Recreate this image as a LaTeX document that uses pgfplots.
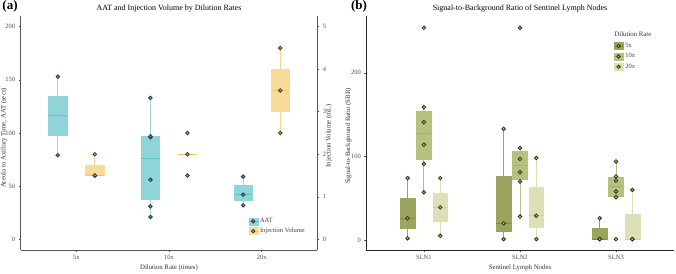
\documentclass[border=0pt]{standalone}
\usepackage{fontspec}
\setmainfont{Liberation Serif}
\usepackage{pgfplots}
\pgfplotsset{compat=1.18}
\usepgfplotslibrary{statistics}
\definecolor{aatfill}{HTML}{8ED4D8}
\definecolor{aatmed}{HTML}{62C3CA}
\definecolor{aatwhisk}{HTML}{9BD9DD}
\definecolor{aatpt}{HTML}{3AA6AE}
\definecolor{injfill}{HTML}{F9DB98}
\definecolor{injmed}{HTML}{F3C35E}
\definecolor{injwhisk}{HTML}{F7D58D}
\definecolor{injpt}{HTML}{D9A83A}
\definecolor{ptdraw}{HTML}{2E3A3A}
\definecolor{cfive}{HTML}{9CA35F}
\definecolor{cfivemed}{HTML}{7F8A3C}
\definecolor{cten}{HTML}{B7C17E}
\definecolor{ctenmed}{HTML}{A5B168}
\definecolor{ctwenty}{HTML}{DDE0B6}
\definecolor{ctwentymed}{HTML}{CDD29A}
\definecolor{bpt}{HTML}{C4C866}
\definecolor{bptdraw}{HTML}{2B2B1B}
\definecolor{axisgray}{HTML}{555555}
\pgfplotsset{
  base/.style={scale only axis, height=234pt, clip=false,
    axis x line*=bottom, axis y line*=left,
    axis line style={-, line width=0.8pt, axisgray},
    tick align=outside, major tick length=2pt,
    tick style={axisgray, line width=0.5pt},
    tick label style={font=\fontsize{6.5}{7}\selectfont, text=black!70},
    /pgf/number format/assume math mode=true,
    xmin=0.4, xmax=3.6, xtick={1,2,3}},
  bx/.style n args={4}{forget plot, color=#3, line width=0.9pt,
    boxplot/draw direction=y,
    boxplot/box extend=#4, boxplot/whisker extend=0,
    boxplot/every box/.style={fill=#1, draw=#1, line width=0.5pt},
    boxplot/every median/.style={draw=#2, line width=1pt}},
  pts/.style 2 args={forget plot, only marks, mark=*, mark size=1.8pt, line width=0.8pt,
    mark options={fill=#1, draw=#2}},
  keyimg/.style n args={4}{legend image code/.code={
    \fill[#1] (0pt,-3.5pt) rectangle (9pt,3.5pt);
    \draw[#2, line width=0.6pt] (0pt,0pt) -- (9pt,0pt);
    \filldraw[fill=#3, draw=#4, line width=0.8pt] (4.5pt,0pt) circle (1.7pt);}}
}
\begin{document}
\begin{tikzpicture}
\path[use as bounding box] (0pt,0pt) rectangle (676pt,273pt);
% ---------- panel (a) ----------
\begin{axis}[base, at={(20.7pt,23pt)}, anchor=south west, width=296.6pt,
  ymin=-10, ymax=210, ytick={0,50,100,150,200},
  xticklabels={5x,10x,20x}]
\addplot[bx={aatfill}{aatmed}{aatwhisk}{0.2}, boxplot prepared={draw position=0.8,
  lower whisker=79, lower quartile=97.5, median=116, upper quartile=134.5, upper whisker=153}] coordinates {};
\addplot[bx={aatfill}{aatmed}{aatwhisk}{0.2}, boxplot prepared={draw position=1.8,
  lower whisker=21, lower quartile=37.25, median=76, upper quartile=96.75, upper whisker=133}] coordinates {};
\addplot[bx={aatfill}{aatmed}{aatwhisk}{0.2}, boxplot prepared={draw position=2.8,
  lower whisker=32, lower quartile=37, median=42, upper quartile=50.5, upper whisker=59}] coordinates {};
\addplot[pts={aatpt}{ptdraw}] coordinates {
  (0.8,79) (0.8,153)
  (1.8,21) (1.8,31) (1.8,56) (1.8,96) (1.8,97) (1.8,133)
  (2.8,32) (2.8,42) (2.8,59)};
\end{axis}
\begin{axis}[base, at={(20.7pt,23pt)}, anchor=south west, width=296.6pt,
  axis y line*=right, axis x line=none,
  ymin=-0.25, ymax=5.25, ytick={0,1,2,3,4,5},
  legend style={at={(0.757,0.148)}, anchor=north west, draw=none, fill=none,
    font=\fontsize{6.5}{7}\selectfont, row sep=2.5pt,
    nodes={inner xsep=2pt, inner ysep=0.6pt, text=black!75}},
  legend cell align=left]
\addplot[bx={injfill}{injmed}{injwhisk}{0.2}, boxplot prepared={draw position=1.2,
  lower whisker=1.5, lower quartile=1.5, median=1.5, upper quartile=1.75, upper whisker=2.0}] coordinates {};
\addplot[bx={injfill}{injmed}{injwhisk}{0.2}, boxplot prepared={draw position=2.2,
  lower whisker=2.0, lower quartile=2.0, median=2.0, upper quartile=2.0, upper whisker=2.0}] coordinates {};
\addplot[bx={injfill}{injmed}{injwhisk}{0.2}, boxplot prepared={draw position=3.2,
  lower whisker=2.5, lower quartile=3.0, median=3.5, upper quartile=4.0, upper whisker=4.5}] coordinates {};
\addplot[pts={injpt}{ptdraw}] coordinates {
  (1.2,1.5) (1.2,1.5) (1.2,2.0)
  (2.2,1.5) (2.2,2.0) (2.2,2.5)
  (3.2,2.5) (3.2,3.5) (3.2,4.5)};
\addlegendimage{keyimg={aatfill}{aatmed}{aatpt}{ptdraw}}
\addlegendentry{AAT}
\addlegendimage{keyimg={injfill}{injmed}{injpt}{ptdraw}}
\addlegendentry{Injection Volume}
\end{axis}
% ---------- panel (b) ----------
\begin{axis}[base, at={(366.3pt,23pt)}, anchor=south west, width=307.3pt,
  axis line style={-, line width=0.8pt, black!85},
  ymin=-12, ymax=268, ytick={0,100,200},
  xticklabels={SLN1,SLN2,SLN3},
  legend style={at={(0.795,0.897)}, anchor=north west, draw=none, fill=none,
    font=\fontsize{6.5}{7}\selectfont, row sep=3pt,
    nodes={inner xsep=2pt, inner ysep=0.6pt, text=black!75}},
  legend cell align=left]
% 5x
\addplot[bx={cfive}{cfivemed}{cfive}{0.155}, boxplot prepared={draw position=0.83,
  lower whisker=2, lower quartile=14, median=26, upper quartile=50, upper whisker=74}] coordinates {};
\addplot[bx={cfive}{cfivemed}{cfive}{0.155}, boxplot prepared={draw position=1.83,
  lower whisker=1, lower quartile=10.5, median=20, upper quartile=76.5, upper whisker=133}] coordinates {};
\addplot[bx={cfive}{cfivemed}{cfive}{0.155}, boxplot prepared={draw position=2.83,
  lower whisker=1, lower quartile=1, median=1, upper quartile=13.5, upper whisker=26}] coordinates {};
% 10x
\addplot[bx={cten}{ctenmed}{cten}{0.155}, boxplot prepared={draw position=1,
  lower whisker=57, lower quartile=96.75, median=127.5, upper quartile=154.5, upper whisker=159}] coordinates {};
\addplot[bx={cten}{ctenmed}{cten}{0.155}, boxplot prepared={draw position=2,
  lower whisker=28, lower quartile=72.75, median=89, upper quartile=106.75, upper whisker=110}] coordinates {};
\addplot[bx={cten}{ctenmed}{cten}{0.155}, boxplot prepared={draw position=3,
  lower whisker=51, lower quartile=52.75, median=64.5, upper quartile=74.75, upper whisker=94}] coordinates {};
% 20x
\addplot[bx={ctwenty}{ctwentymed}{ctwenty}{0.155}, boxplot prepared={draw position=1.17,
  lower whisker=5, lower quartile=22, median=39, upper quartile=56.5, upper whisker=74}] coordinates {};
\addplot[bx={ctwenty}{ctwentymed}{ctwenty}{0.155}, boxplot prepared={draw position=2.17,
  lower whisker=1, lower quartile=15, median=29, upper quartile=63.5, upper whisker=98}] coordinates {};
\addplot[bx={ctwenty}{ctwentymed}{ctwenty}{0.155}, boxplot prepared={draw position=3.17,
  lower whisker=1, lower quartile=1, median=1, upper quartile=30.5, upper whisker=60}] coordinates {};
\addplot[pts={bpt}{bptdraw}] coordinates {
  (0.83,2) (0.83,26) (0.83,74)
  (1.83,1) (1.83,20) (1.83,133)
  (2.83,1) (2.83,1) (2.83,26)
  (1,57) (1,91) (1,114) (1,141) (1,159) (1,254)
  (2,28) (2,70) (2,81) (2,97) (2,110) (2,254)
  (3,1) (3,51) (3,58) (3,71) (3,76) (3,94)
  (1.17,5) (1.17,39) (1.17,74)
  (2.17,1) (2.17,29) (2.17,98)
  (3.17,1) (3.17,1) (3.17,60)};
\addlegendimage{keyimg={cfive}{cfivemed}{bpt}{bptdraw}}
\addlegendentry{5x}
\addlegendimage{keyimg={cten}{ctenmed}{bpt}{bptdraw}}
\addlegendentry{10x}
\addlegendimage{keyimg={ctwenty}{ctwentymed}{bpt}{bptdraw}}
\addlegendentry{20x}
\end{axis}
% ---------- texts ----------
\node[font=\bfseries\fontsize{13}{14}\selectfont] at (10pt,267pt) {(a)};
\node[font=\bfseries\fontsize{13}{14}\selectfont] at (359pt,267pt) {(b)};
\node[font=\fontsize{8}{9}\selectfont] at (169pt,264.5pt) {AAT and Injection Volume by Dilution Rates};
\node[font=\fontsize{8}{9}\selectfont] at (520pt,264.5pt) {Signal-to-Background Ratio of Sentinel Lymph Nodes};
\node[font=\fontsize{6.8}{8}\selectfont, text=black!80] at (169pt,5.5pt) {Dilution Rate (times)};
\node[font=\fontsize{6.8}{8}\selectfont, text=black!80] at (520pt,5.5pt) {Sentinel Lymph Nodes};
\node[font=\fontsize{6.8}{8}\selectfont, text=black!80, rotate=90] at (4pt,135pt) {Areola to Axillary Time, AAT (secs)};
\node[font=\fontsize{6.8}{8}\selectfont, text=black!80, rotate=90] at (329pt,137pt) {Injection Volume (mL)};
\node[font=\fontsize{6.8}{8}\selectfont, text=black!80, rotate=90] at (348.5pt,137pt) {Signal-to-Background Ratio (SBR)};
\node[font=\fontsize{6.8}{8}\selectfont, text=black!80, anchor=west] at (611pt,238.5pt) {Dilution Rate};
\end{tikzpicture}
\end{document}
